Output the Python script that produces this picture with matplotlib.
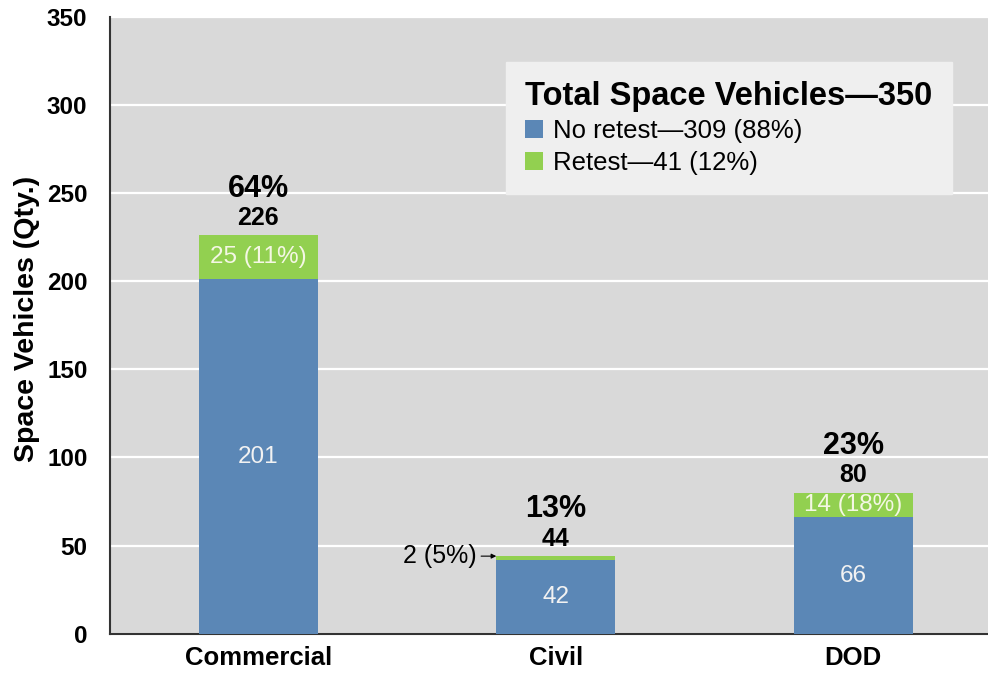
import matplotlib
matplotlib.use("Agg")
import matplotlib.pyplot as plt
import numpy as np

plt.rcParams["font.family"] = ["Liberation Sans", "DejaVu Sans"]

categories = ["Commercial", "Civil", "DOD"]
no_retest = [201, 42, 66]
retest = [25, 2, 14]
retest_labels = ["25 (11%)", "2 (5%)", "14 (18%)"]
share_labels = ["64%", "13%", "23%"]
legend_title = "Total Space Vehicles\u2014350"
legend_labels = ["No retest\u2014309 (88%)", "Retest\u201441 (12%)"]
yticks = [0, 50, 100, 150, 200, 250, 300, 350]

BLUE = "#5b87b6"
GREEN = "#92d050"
BG = "#d9d9d9"

fig = plt.figure(figsize=(9.88, 6.77), dpi=100)
# the plot area runs a little past the right edge of the image
ax = fig.add_axes([0.111, 0.064, 0.903, 0.911])
ax.set_facecolor(BG)

x = np.arange(len(categories))
w = 0.40
totals = [a + b for a, b in zip(no_retest, retest)]
b1 = ax.bar(x, no_retest, w, color=BLUE, zorder=3, label=legend_labels[0])
b2 = ax.bar(x, retest, w, bottom=no_retest, color=GREEN, zorder=3,
            label=legend_labels[1])

for i in range(len(x)):
    ax.text(x[i], no_retest[i] / 2, str(no_retest[i]), ha="center",
            va="center", color="#f2f2f2", fontsize=17.5, zorder=4)
    if retest[i] > 5:
        ax.text(x[i], no_retest[i] + retest[i] / 2, retest_labels[i],
                ha="center", va="center", color="#f4f7e4", fontsize=17.5,
                zorder=4)
    ax.text(x[i], totals[i] + 6, str(totals[i]), ha="center", va="baseline",
            fontsize=18, fontweight="bold", zorder=4)
    ax.text(x[i], totals[i] + 22, share_labels[i], ha="center",
            va="baseline", fontsize=22, fontweight="bold", zorder=4)

# small Civil retest segment gets an outside label with arrow
ax.annotate(retest_labels[1], xy=(x[1] - w / 2, no_retest[1] + retest[1]),
            xytext=(x[1] - w / 2 - 0.065, no_retest[1] + retest[1]),
            ha="right", va="center", fontsize=18,
            arrowprops=dict(arrowstyle="-|>", color="black", lw=0.8,
                            mutation_scale=7, shrinkA=1, shrinkB=0),
            zorder=5)

ax.set_xlim(-0.5, 2.5)
ax.set_ylim(0, 350)
ax.set_yticks(yticks)
ax.set_xticks(x)
ax.set_xticklabels(categories, fontsize=18.5, fontweight="bold")
for lab in ax.get_yticklabels():
    lab.set_fontsize(17.5)
    lab.set_fontweight("bold")
ax.tick_params(axis="x", length=0, pad=9)
ax.tick_params(axis="y", length=0, pad=16)
ax.set_ylabel("Space Vehicles (Qty.)", fontsize=20.5, fontweight="bold")
ax.yaxis.set_label_coords(-0.078, 0.51)
ax.grid(axis="y", color="white", lw=1.6, zorder=1)
for s in ["top", "right"]:
    ax.spines[s].set_visible(False)
ax.spines["left"].set_color("#333333")
ax.spines["bottom"].set_color("#333333")
ax.spines["left"].set_linewidth(1.5)
ax.spines["bottom"].set_linewidth(1.5)

leg = ax.legend(handles=[b1, b2], title=legend_title, loc="upper left",
                bbox_to_anchor=(0.444, 0.927), borderaxespad=0,
                frameon=True, fancybox=False,
                facecolor="#efefef", edgecolor="#efefef", framealpha=1,
                fontsize=18.5, handlelength=0.7, handleheight=0.7,
                handletextpad=0.4, labelspacing=0.28, borderpad=0.75,
                alignment="left",
                title_fontproperties={"weight": "bold", "size": 23.5})
leg.set_zorder(6)

fig.savefig("out.png", dpi=100)
